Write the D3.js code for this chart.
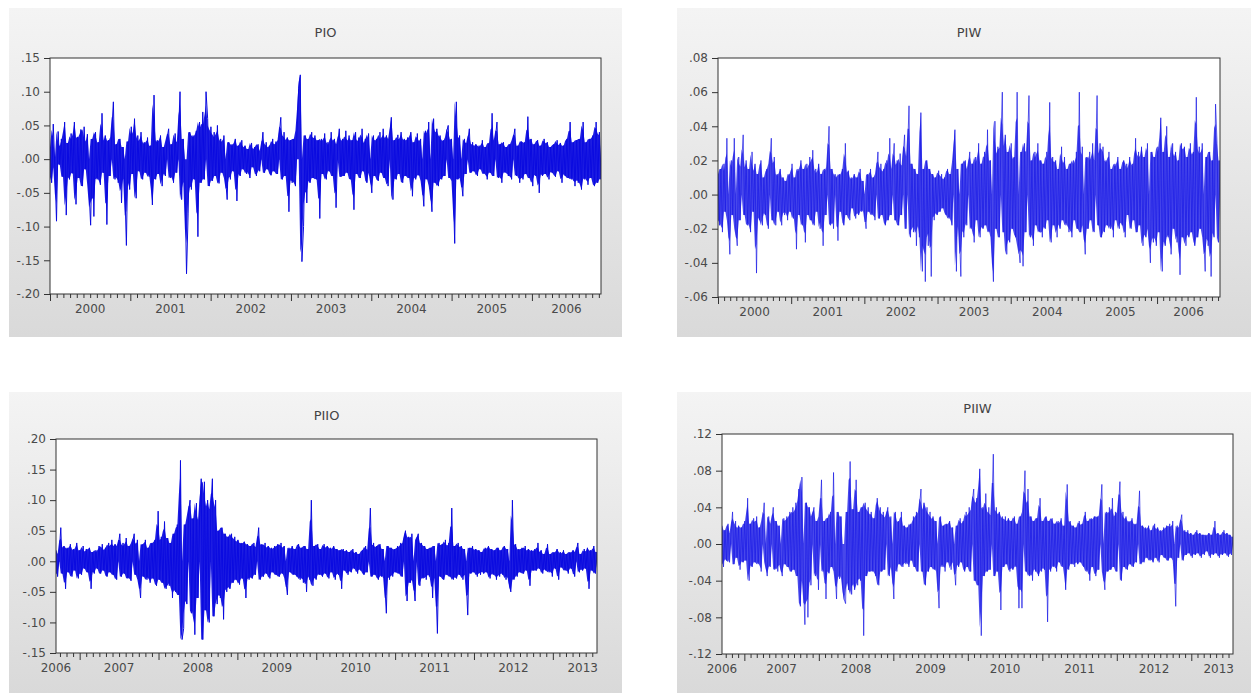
<!DOCTYPE html>
<html>
<head>
<meta charset="utf-8">
<script src="https://cdn.jsdelivr.net/npm/d3@7"></script>
<style>
  html, body { margin: 0; padding: 0; background: #ffffff; }
  svg { display: block; }
  text { font-family: "DejaVu Sans", Verdana, sans-serif; }
</style>
</head>
<body>
<svg id="chart" width="1255" height="695"></svg>
<script>
// ---------------- DATA (weekly-ish sampling) ----------------
const titles = ["PIO", "PIW", "PIIO", "PIIW"];

const pioTicks  = [0.15, 0.10, 0.05, 0.00, -0.05, -0.10, -0.15, -0.20];
const piwTicks  = [0.08, 0.06, 0.04, 0.02, 0.00, -0.02, -0.04, -0.06];
const piioTicks = [0.20, 0.15, 0.10, 0.05, 0.00, -0.05, -0.10, -0.15];
const piiwTicks = [0.12, 0.08, 0.04, 0.00, -0.04, -0.08, -0.12];

const period1 = [2000.0, 2006.86];   // sample span, fractional years
const period2 = [2006.70, 2013.56];

const pioValues = [
 .018,-.035,.052,-.012,-.092,.041,-.008,.030,-.026,.055,-.083,.024,-.030,.038,-.021,.055,-.067,.033,-.028,.044,
 -.040,.048,-.015,.037,-.045,-.098,.030,-.085,.040,-.030,.025,-.038,.068,-.020,.035,-.097,.028,-.025,.040,.085,
 -.030,.022,-.035,.030,-.065,.018,-.040,-.128,.026,-.045,.048,-.022,.060,-.058,.035,-.018,.040,-.030,.025,-.020,
 .032,-.026,.020,-.068,.095,-.030,.028,-.022,.035,-.040,.018,-.025,.030,.045,-.028,.022,-.035,.038,-.020,.030,
 .100,-.060,.030,-.038,-.170,-.080,.040,-.045,.035,-.030,.042,-.115,.055,-.035,.070,-.030,.100,.060,-.040,.048,
 -.032,.040,-.025,.050,-.036,.030,-.020,.035,-.028,-.060,.025,-.030,.022,-.018,.030,-.062,.020,-.025,.028,-.015,
 .020,-.022,.015,-.028,.024,-.012,.018,-.025,.022,-.018,.012,.040,-.020,.025,-.015,.020,-.024,.030,-.018,.026,
 -.022,.035,.062,-.030,.040,-.025,.032,-.078,.028,-.035,.030,-.040,.045,.105,.125,-.152,-.100,.035,-.065,.030,
 -.035,.040,-.028,.035,-.030,.028,-.088,.030,-.022,.038,-.030,.025,-.018,.040,-.025,.030,-.072,.022,.045,-.026,
 .030,-.025,.042,-.020,.035,-.030,.028,-.075,.040,-.022,.032,-.028,.045,-.018,.030,-.035,.038,-.020,-.050,.035,
 -.025,.030,-.032,.040,-.020,.045,-.028,.035,-.040,.030,.062,-.060,.028,-.030,.036,-.022,.040,-.035,.030,-.025,
 .032,-.028,.040,-.055,.025,-.030,.038,-.024,.030,-.035,-.070,.042,-.030,.055,-.040,-.078,.060,-.035,.045,-.040,
 .035,-.030,.028,-.025,.040,.050,-.028,.030,-.035,-.125,.085,-.030,.035,-.028,-.055,.030,-.022,.025,.045,-.020,
 .025,-.018,.022,-.025,.020,-.015,.028,-.022,.018,-.030,.024,-.020,.068,-.025,.030,.055,-.028,.022,-.035,.025,
 -.020,.018,-.025,.022,-.030,.028,.045,-.025,.020,-.035,.026,-.030,.025,-.022,.063,-.028,.030,-.040,.022,-.025,
 .028,-.050,.020,-.025,.030,-.022,.025,-.030,.018,-.020,.022,-.026,.028,-.018,.024,-.035,.020,-.025,.030,-.028,
 .055,-.030,.025,-.040,.028,-.035,.030,-.045,.055,-.030,.025,-.038,.030,-.028,.035,-.040,.055,-.035,.040,-.030
];

const piwValues = [
 .012,-.018,.015,-.022,.018,-.010,.033,-.015,-.035,.020,-.012,.033,-.020,-.030,.022,-.015,.018,.035,-.012,.020,
 -.018,.015,-.022,.025,-.010,.018,-.046,.012,-.015,.020,-.018,.010,-.012,.015,-.020,.018,.033,-.015,.022,-.018,
 .012,-.010,.015,-.018,.010,-.012,.008,-.015,.012,-.010,.018,-.014,.010,-.032,.015,-.012,.020,-.018,.015,-.028,
 .018,-.012,.022,-.015,.026,-.018,.015,-.010,.018,-.020,.012,-.030,.015,-.012,.020,.040,-.018,.015,-.020,.012,
 .010,-.027,.012,-.010,.015,-.018,.030,-.012,.014,-.015,.010,-.008,.012,-.014,.010,-.012,.015,-.010,.008,-.012,
 -.020,.012,-.010,.015,-.012,.010,-.015,.012,.025,-.014,.018,-.012,.015,-.018,.020,-.015,.033,-.012,.018,.030,
 -.015,.020,-.018,.024,-.012,.022,.035,-.020,.025,.052,-.025,.018,-.022,.015,-.030,.012,-.025,.048,-.045,.015,
 -.051,.020,-.030,.015,-.048,.012,-.015,.010,-.012,.014,-.010,.012,-.008,.010,-.012,.015,-.014,.012,-.018,.020,
 .038,-.045,.015,-.022,-.048,.018,-.025,.020,-.018,.015,.025,-.020,.018,-.028,.022,-.015,.030,-.025,.018,-.020,
 .025,-.018,.038,-.022,.020,-.030,-.051,.043,-.020,.028,-.025,.030,.060,-.022,.035,-.035,.025,-.028,.030,-.020,
 .022,-.025,.060,-.030,-.040,.025,-.042,.030,-.022,.028,.058,-.025,.020,-.030,.025,-.018,.030,-.022,.020,-.025,
 .018,-.020,.025,-.015,.054,-.028,.022,-.018,.020,-.025,.015,-.020,.028,-.015,.022,-.018,.015,-.022,.018,-.025,
 .020,-.015,.025,-.020,.060,-.022,.028,-.018,-.035,.022,-.020,.025,-.015,.030,-.022,.020,.058,-.018,.030,-.025,
 .028,-.022,.020,-.018,.025,-.020,.015,-.025,.018,-.015,.022,-.020,.015,-.018,.020,-.025,.018,-.012,.022,-.020,
 .018,-.015,.033,-.022,.025,-.018,.028,-.030,.022,-.025,.030,-.020,-.040,.025,-.028,.022,-.030,.028,-.022,.045,
 -.045,.025,-.030,.040,-.025,.022,-.035,.030,-.020,.025,-.028,.020,-.047,.030,-.025,.028,-.030,.022,-.025,.030,
 -.022,.025,-.030,.057,-.025,.028,-.020,.030,-.025,-.045,.022,-.030,.025,-.048,.020,-.025,.053,.030,-.028,.020
];

const piioValues = [
 .018,-.025,.012,.055,-.020,.025,-.045,.022,-.018,.028,-.025,.020,-.015,.030,-.028,.018,-.022,.025,-.012,.020,
 -.018,.022,-.045,.015,-.020,.018,-.012,.025,-.020,.028,-.015,.022,-.025,.030,-.018,.035,-.022,.028,-.030,.025,
 .045,-.025,.030,-.020,.038,-.028,.025,-.032,.030,.045,-.022,.035,-.030,-.060,.028,-.025,.035,-.030,.022,-.035,
 .030,-.028,.035,-.040,.082,-.030,.040,-.035,.065,-.045,.038,-.040,.030,-.060,.045,-.050,.060,-.055,.165,-.128,
 -.110,.060,-.070,.080,.100,-.085,.070,-.120,.095,-.060,.075,.135,-.128,.130,-.080,.100,-.100,.085,.135,-.090,
 .100,-.070,.050,-.060,.055,-.095,.045,-.050,.040,-.045,.045,-.035,.040,-.030,.035,-.038,.030,-.028,.032,-.060,
 .028,-.030,.025,-.028,.030,-.022,.025,.055,-.030,.028,-.025,.030,-.020,.025,-.028,.022,-.018,.025,-.022,.028,
 -.025,.030,-.020,.025,-.030,-.055,.022,-.018,.025,-.022,.020,-.025,.028,-.030,.022,-.035,.025,-.050,.020,-.030,
 .100,-.040,.025,-.030,.028,-.022,.020,-.025,.028,-.020,.025,-.028,.022,-.018,.025,-.030,.020,-.022,.018,-.045,
 .020,-.015,.018,-.022,.015,-.018,.020,-.012,.015,-.020,.012,-.015,.018,-.022,.025,-.018,.020,.087,-.025,.030,
 -.022,.025,-.030,.028,-.025,.020,-.035,-.085,.025,-.030,.022,-.025,.020,-.018,.025,-.020,.030,-.025,.035,.050,
 -.065,.040,-.035,.045,-.030,-.065,.035,.045,-.040,.030,-.028,.025,-.030,.020,-.025,.022,-.060,.025,-.030,-.118,
 .030,-.025,.028,-.030,.035,-.022,.030,-.025,.087,-.030,.025,-.028,.030,-.022,.025,-.030,.020,-.025,-.088,.022,
 -.020,.025,-.018,.020,-.025,.018,-.022,.015,-.020,.022,-.018,.025,-.028,.020,-.022,.018,-.030,.022,-.025,.018,
 -.022,.025,-.030,.020,-.035,-.050,.100,-.030,.028,-.025,.020,-.018,.022,-.020,.025,-.015,.020,-.040,.018,-.015,
 .020,-.015,.030,-.012,.018,-.020,.012,-.015,.028,-.018,.012,-.025,.015,-.012,.020,-.030,.015,-.010,.018,-.015,
 .012,-.020,.015,-.012,.018,-.025,.015,.030,-.018,.012,-.015,.020,-.012,.022,-.045,.018,-.015,.025,-.020,.015
];

const piiwValues = [
 .020,-.025,.015,-.018,.022,-.020,.012,.035,-.022,.025,-.015,.020,-.028,.018,-.020,.025,-.018,.050,-.040,.022,
 -.025,.028,-.020,.030,-.022,.018,-.030,.025,.045,-.020,-.035,.030,-.025,.022,.040,-.028,.025,-.030,.020,-.025,
 -.035,.028,-.022,.030,-.025,.035,-.030,.040,-.028,.045,-.035,.060,-.068,.073,-.040,-.088,.045,-.080,.040,-.045,
 .030,.040,-.035,.025,-.050,.030,.070,-.030,.025,-.060,.028,-.032,.035,-.025,.078,-.030,-.060,.035,-.038,.030,
 -.045,-.060,-.065,.035,-.050,.090,-.055,.038,-.050,.070,-.045,.035,-.040,.040,-.100,.045,-.035,.040,-.030,.035,
 -.030,.028,-.035,.050,-.045,.040,-.030,.035,-.028,.030,.040,-.035,.030,-.025,-.060,.035,-.030,.025,-.022,.035,
 -.025,.020,-.022,.018,-.025,.022,-.018,.030,-.025,.035,-.030,.040,.060,-.030,.045,-.045,.040,-.030,.035,-.025,
 .030,-.028,.025,-.035,-.070,.030,-.025,.020,-.030,.022,-.020,.025,-.028,.018,-.022,-.045,.020,-.025,.028,-.020,
 .025,-.030,.035,-.025,.040,-.030,.045,.060,-.040,.050,-.045,.082,-.100,.040,-.035,.055,-.030,.040,-.028,.035,
 .098,-.035,.040,-.030,.035,-.072,.030,-.025,.030,-.022,.028,-.030,.025,-.028,.030,-.025,.022,-.070,.030,-.070,
 .035,.080,-.030,.060,-.035,.030,-.040,.025,-.030,.028,-.035,.050,-.030,.025,-.028,.030,-.085,.025,-.030,.028,
 -.025,.022,-.030,.025,-.020,.028,-.025,.020,-.050,.065,-.028,.025,-.022,.020,-.025,.018,-.022,.025,-.020,.022,
 -.025,.035,-.030,.025,-.040,.028,-.025,.030,-.035,.030,-.028,.035,.065,-.030,-.050,.035,-.030,.040,-.028,.050,
 -.025,.035,-.030,.040,.068,-.040,.035,-.025,.030,-.028,.025,-.022,.028,-.025,.022,-.020,.025,.058,-.022,.020,
 -.020,.018,-.015,.020,-.018,.015,-.020,.022,-.015,.018,-.020,.015,-.012,.018,-.015,.020,-.018,.022,-.015,.025,
 -.018,-.068,.020,-.015,.022,.032,-.018,.015,-.012,.015,-.010,.012,-.015,.010,-.012,.015,-.010,.012,-.015,.010,
 -.012,.010,-.008,.012,-.015,.010,-.012,.025,-.010,.012,-.015,.010,-.012,.015,-.010,.012,-.014,.010,-.012,.008
];

// ---------------- LAYOUT / STYLE ----------------
const panels = [
  { title: titles[0], values: pioValues,  ticks: pioTicks,  span: period1,
    bg: [9, 8, 613, 329],   plot: [50, 58, 551, 236],  titleY: 37, color: "#0a0ae0", fillOp: 0.92, lineOp: 1, width: 1.0 },
  { title: titles[1], values: piwValues,  ticks: piwTicks,  span: period1,
    bg: [677, 8, 574, 329], plot: [718, 58, 502, 239], titleY: 37, color: "#1a1ae6", fillOp: 0.8, lineOp: 0.7, width: 1.0 },
  { title: titles[2], values: piioValues, ticks: piioTicks, span: period2,
    bg: [9, 392, 613, 301], plot: [56, 439, 541, 214], titleY: 420, color: "#0a0ae0", fillOp: 0.92, lineOp: 1, width: 1.0 },
  { title: titles[3], values: piiwValues, ticks: piiwTicks, span: period2,
    bg: [677, 392, 574, 301], plot: [722, 434, 511, 220], titleY: 413, color: "#1a1ae6", fillOp: 0.8, lineOp: 0.7, width: 1.0 }
];

const svg = d3.select("#chart");
const defs = svg.append("defs");
const grad = defs.append("linearGradient").attr("id", "bgGrad")
  .attr("x1", 0).attr("y1", 0).attr("x2", 0).attr("y2", 1);
grad.append("stop").attr("offset", "0%").attr("stop-color", "#f4f4f4");
grad.append("stop").attr("offset", "100%").attr("stop-color", "#d9d9d9");

const fmtTick = v => (v < 0 ? "-" : "") + d3.format(".2f")(Math.abs(v)).slice(1);

panels.forEach((p, k) => {
  const [bx, by, bw, bh] = p.bg;
  const [px, py, pw, ph] = p.plot;
  const g = svg.append("g");

  g.append("rect").attr("x", bx).attr("y", by).attr("width", bw).attr("height", bh)
    .attr("fill", "url(#bgGrad)");
  g.append("rect").attr("x", px).attr("y", py).attr("width", pw).attr("height", ph)
    .attr("fill", "#ffffff");

  const x = d3.scaleLinear().domain(p.span).range([px, px + pw]);
  const y = d3.scaleLinear().domain([d3.min(p.ticks), d3.max(p.ticks)]).range([py + ph, py]);
  const vals = p.values, n = vals.length;
  const obs = d3.scaleLinear().domain([0, n - 1]).range(p.span); // observation index -> time

  const clipId = "clip" + k;
  defs.append("clipPath").attr("id", clipId).append("rect")
    .attr("x", px).attr("y", py).attr("width", pw).attr("height", ph);

  // dense over-plotted core: ink between consecutive observations, limited to their mean size
  const nxt = i => vals[Math.min(i + 1, n - 1)];
  const cap = (d, i) => (Math.abs(d) + Math.abs(nxt(i))) / 2;
  const sweep = d3.area()
    .x((d, i) => x(obs(i)))
    .y0((d, i) => y(Math.max(Math.min(d, nxt(i), 0), -cap(d, i))))
    .y1((d, i) => y(Math.min(Math.max(d, nxt(i), 0), cap(d, i))));
  g.append("path").datum(vals)
    .attr("clip-path", `url(#${clipId})`)
    .attr("d", sweep)
    .attr("fill", p.color)
    .attr("fill-opacity", p.fillOp);

  const line = d3.line().x((d, i) => x(obs(i))).y(d => y(d));
  g.append("path").datum(vals)
    .attr("clip-path", `url(#${clipId})`)
    .attr("d", line)
    .attr("fill", "none")
    .attr("stroke", p.color)
    .attr("stroke-opacity", p.lineOp)
    .attr("stroke-width", p.width);

  // y axis
  const yAxis = d3.axisLeft(y).tickValues(p.ticks).tickSize(6).tickPadding(4).tickFormat(fmtTick);
  const ya = g.append("g").attr("transform", `translate(${px},0)`).call(yAxis);
  ya.select(".domain").remove();
  ya.selectAll("line").attr("stroke", "#333");
  ya.selectAll("text").attr("fill", "#4a4a4a").style("font-size", "12px")
    .style("font-family", "DejaVu Sans, Verdana, sans-serif");

  // x axis: monthly minor ticks, yearly major ticks
  const m0 = Math.ceil(p.span[0] * 12 - 1e-6), m1 = Math.floor(p.span[1] * 12 + 1e-6);
  const months = d3.range(m0, m1 + 1);
  const minor = months.filter(m => m % 12 !== 0).map(m => m / 12);
  const major = months.filter(m => m % 12 === 0).map(m => m / 12);

  const xMinor = g.append("g").attr("transform", `translate(0,${py + ph})`)
    .call(d3.axisBottom(x).tickValues(minor).tickSize(4).tickFormat(""));
  xMinor.select(".domain").remove();
  xMinor.selectAll("line").attr("stroke", "#333");
  const xMajor = g.append("g").attr("transform", `translate(0,${py + ph})`)
    .call(d3.axisBottom(x).tickValues(major).tickSize(7).tickFormat(""));
  xMajor.select(".domain").remove();
  xMajor.selectAll("line").attr("stroke", "#333");

  // year labels centred in each (possibly partial) year interval
  const y0 = Math.floor(p.span[0]), y1 = Math.floor(p.span[1]);
  const years = d3.range(y0, y1 + 1);
  years.forEach((yr, j) => {
    const a = Math.max(yr, p.span[0]), b = Math.min(yr + 1, p.span[1]);
    let lx = (x(a) + x(b)) / 2, anchor = "middle";
    if (j === 0 && b - a < 0.5) { lx = px; }
    if (j === years.length - 1 && b - a < 0.6) { lx = px + pw + 1; anchor = "end"; }
    g.append("text").attr("x", lx).attr("y", py + ph + 19)
      .attr("text-anchor", anchor).attr("fill", "#4a4a4a")
      .style("font-size", "12px").text(yr);
  });

  // frame
  g.append("rect").attr("x", px).attr("y", py).attr("width", pw).attr("height", ph)
    .attr("fill", "none").attr("stroke", "#333").attr("stroke-width", 1);

  // title
  g.append("text").attr("x", px + pw / 2).attr("y", p.titleY)
    .attr("text-anchor", "middle").attr("fill", "#444")
    .style("font-size", "13px").text(p.title);
});
</script>
</body>
</html>
